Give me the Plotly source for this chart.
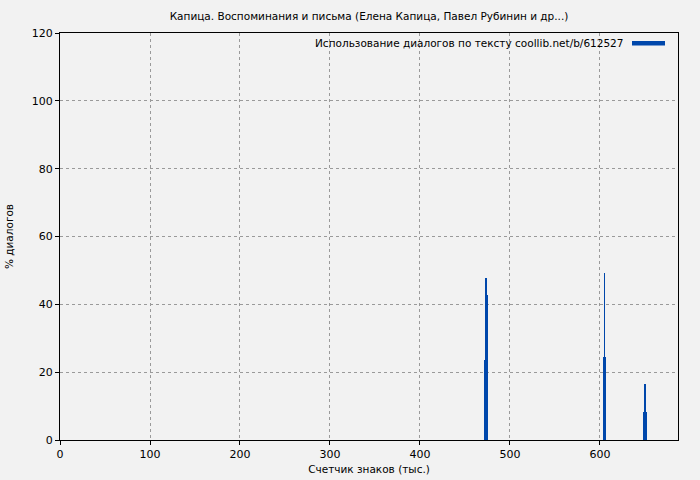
import plotly.graph_objects as go

# data
positions = [472, 473, 474, 475, 604, 605, 606, 649, 650, 651]
percent_dialogs = [23.6, 47.8, 42.8, 18.9, 24.4, 49.2, 24.4, 8.3, 16.5, 8.4]
x_ticks = [0, 100, 200, 300, 400, 500, 600]
y_ticks = [0, 20, 40, 60, 80, 100, 120]

title = "Капица. Воспоминания и письма (Елена Капица, Павел Рубинин и др...)"
legend_text = "Использование диалогов по тексту coollib.net/b/612527"
bar_color = "#0047ab"
font = "DejaVu Sans"

fig = go.Figure()
fig.add_trace(go.Bar(x=positions, y=percent_dialogs, width=1.0,
                     marker=dict(color=bar_color, line=dict(width=0)),
                     showlegend=False))

fig.update_layout(
    width=700, height=480,
    paper_bgcolor="#f2f2f2", plot_bgcolor="#f2f2f2",
    margin=dict(l=60, r=22, t=33, b=40, autoexpand=False),
    font=dict(family=font, size=11, color="black"),
    title=dict(text=title, x=(60 + 678) / 2 / 700, xanchor="center",
               y=1 - 16 / 480, yanchor="middle", font=dict(size=10.5)),
    bargap=0,
    showlegend=False,
)
axis_common = dict(showgrid=True, gridcolor="#9a9a9a", griddash="dot", gridwidth=1,
                   zeroline=False, showline=True, mirror=True, linecolor="black", linewidth=1,
                   ticks="outside", ticklen=4, tickcolor="black",
                   tickfont=dict(size=11), automargin=False)
fig.update_xaxes(range=[0, 686.7], tickvals=x_ticks,
                 title=dict(text="Счетчик знаков (тыс.)", font=dict(size=10.5), standoff=5),
                 **axis_common)
fig.update_yaxes(range=[0, 120], tickvals=y_ticks,
                 title=dict(text="% диалогов", font=dict(size=10.5), standoff=16),
                 **axis_common)

fig.add_annotation(text=legend_text, xref="paper", yref="paper",
                   x=(625 - 60) / 618, y=(440 - 43) / 407, xanchor="right", yanchor="middle",
                   showarrow=False, font=dict(size=10.5))
fig.add_shape(type="line", xref="paper", yref="paper",
              x0=(632 - 60) / 618, x1=(665 - 60) / 618,
              y0=(440 - 43.3) / 407, y1=(440 - 43.3) / 407,
              line=dict(color=bar_color, width=4.5))

fig.write_html("out.html", config={"displayModeBar": False},
               post_script="document.body.style.margin='0px';document.body.style.overflow='hidden';")
